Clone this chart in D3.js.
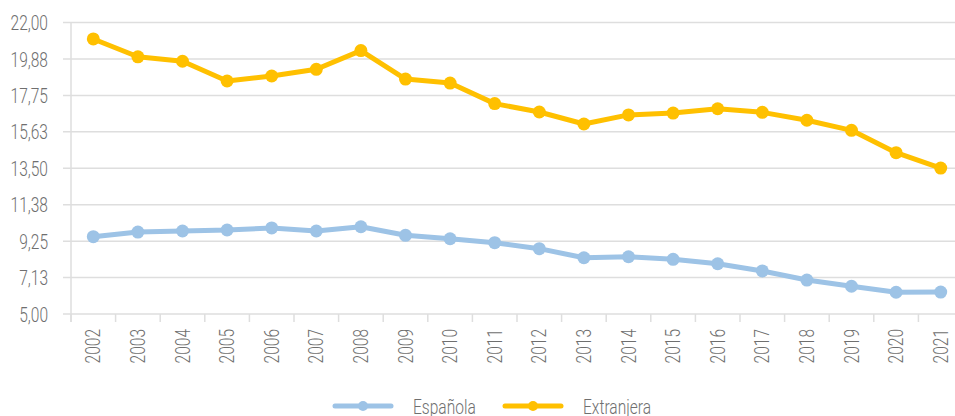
<!DOCTYPE html>
<html><head><meta charset="utf-8">
<script src="https://cdn.jsdelivr.net/npm/d3@7"></script>
<style>
body{margin:0;background:#fff;}
svg text{font-family:Roboto,"Noto Sans",sans-serif;font-weight:300;fill:#6f6f6f;}
</style></head>
<body><svg id="chart" width="955" height="416"></svg>
<script>
const years = ["2002","2003","2004","2005","2006","2007","2008","2009","2010","2011","2012","2013","2014","2015","2016","2017","2018","2019","2020","2021"];
const espanola = [9.51,9.78,9.84,9.90,10.02,9.84,10.09,9.59,9.39,9.16,8.81,8.28,8.34,8.19,7.93,7.51,6.98,6.62,6.27,6.28];
const extranjera = [21.04,20.00,19.74,18.59,18.88,19.27,20.36,18.70,18.47,17.27,16.78,16.08,16.61,16.72,16.97,16.76,16.30,15.71,14.41,13.51];
const yTicks = [5,7.125,9.25,11.375,13.5,15.625,17.75,19.875,22];
const seriesNames = ["Española","Extranjera"];
const seriesColors = ["#9DC3E6","#FFC000"];

(function(){
const svg = d3.select("#chart");
const pL = 71, pR = 963, pT = 22.5, pB = 314;
const sx = 0.74, fs = 21;
const x = d3.scaleBand().domain(years).range([pL, pR]);
const y = d3.scaleLinear().domain([5,22]).range([pB, pT]);
const fmt = v => v.toFixed(2).replace(".", ",");

svg.append("g").selectAll("line").data(yTicks).join("line")
  .attr("x1", pL-8).attr("x2", 955)
  .attr("y1", d=>y(d)).attr("y2", d=>y(d))
  .attr("stroke","#dedede").attr("stroke-width",1.5);
svg.append("line").attr("x1",pL).attr("x2",pL).attr("y1",pT).attr("y2",pB+8)
  .attr("stroke","#dedede").attr("stroke-width",1.5);
const xt = years.map((d,i)=>pL+i*x.step()).concat([pR]);
svg.append("g").selectAll("line").data(xt).join("line")
  .attr("x1",d=>d).attr("x2",d=>d).attr("y1",pB).attr("y2",pB+8)
  .attr("stroke","#dedede").attr("stroke-width",1.5);
svg.append("g").selectAll("text").data(yTicks).join("text")
  .attr("transform", d=>`translate(48,${y(d)}) scale(${sx},1)`).attr("dy","0.36em")
  .attr("text-anchor","end").attr("font-size",fs).text(fmt);
svg.append("g").selectAll("text").data(years).join("text")
  .attr("transform", d=>`translate(${x(d)+x.bandwidth()/2+7},329) rotate(-90) scale(${sx},1)`)
  .attr("text-anchor","end").attr("font-size",fs).text(d=>d);

const line = d3.line().x((d,i)=>x(years[i])+x.bandwidth()/2).y(d=>y(d));
[espanola, extranjera].forEach((s,k)=>{
  svg.append("path").datum(s).attr("d",line).attr("fill","none")
    .attr("stroke",seriesColors[k]).attr("stroke-width",5).attr("stroke-linejoin","round");
  svg.append("g").selectAll("circle").data(s).join("circle")
    .attr("cx",(d,i)=>x(years[i])+x.bandwidth()/2).attr("cy",d=>y(d)).attr("r",6.5)
    .attr("fill",seriesColors[k]);
});

const lx = [335, 505], ty = 406;
seriesNames.forEach((n,k)=>{
  svg.append("line").attr("x1",lx[k]).attr("x2",lx[k]+56).attr("y1",ty).attr("y2",ty)
    .attr("stroke",seriesColors[k]).attr("stroke-width",5).attr("stroke-linecap","round");
  svg.append("circle").attr("cx",lx[k]+28).attr("cy",ty).attr("r",5).attr("fill",seriesColors[k]);
  svg.append("text").attr("transform",`translate(${lx[k]+78},${ty}) scale(${sx},1)`)
    .attr("dy","0.36em").attr("font-size",fs).text(n);
});
})();
</script></body></html>
